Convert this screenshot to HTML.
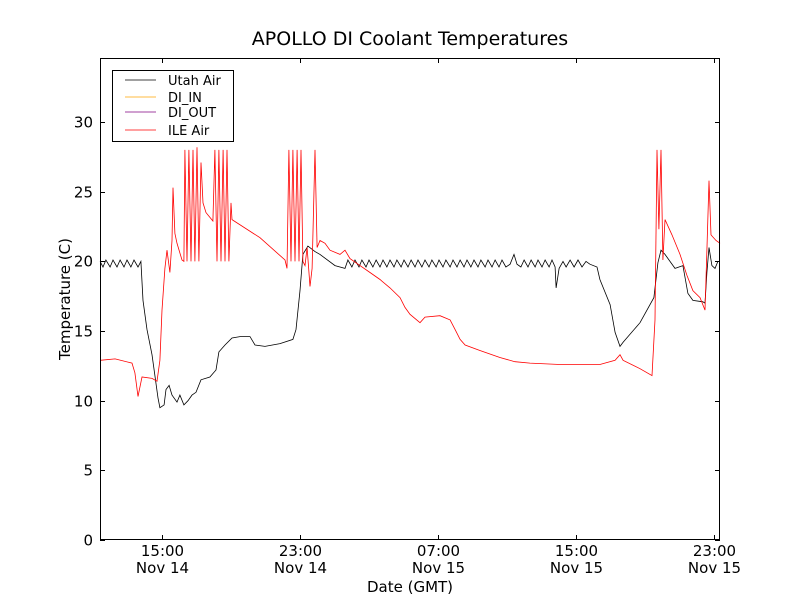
<!DOCTYPE html>
<html><head><meta charset="utf-8"><style>
body{margin:0;background:#fff;}
svg text{font-family:"DejaVu Sans","Liberation Sans",sans-serif;}
</style></head><body>
<svg id="chart" width="800" height="600" xmlns="http://www.w3.org/2000/svg">
<rect width="800" height="600" fill="#fff"/>
<text x="410" y="45" font-size="19" text-anchor="middle">APOLLO DI Coolant Temperatures</text>
<g id="plot"></g>
<rect x="100.5" y="58.5" width="619" height="481" fill="none" stroke="#000" stroke-width="1"/>
<text transform="translate(70,299) rotate(-90)" font-size="15" text-anchor="middle">Temperature (C)</text>
<text x="410" y="592" font-size="15" text-anchor="middle">Date (GMT)</text>
<g>
<rect x="112.5" y="70.5" width="121" height="71" fill="#fff" stroke="#000"/>
<line x1="125" y1="80" x2="156" y2="80" stroke="#000" stroke-width="0.7"/><text x="168" y="85" font-size="13">Utah Air</text>
<line x1="125" y1="97" x2="156" y2="97" stroke="#ffa500" stroke-width="0.7"/><text x="168" y="102" font-size="13">DI_IN</text>
<line x1="125" y1="112" x2="156" y2="112" stroke="#800080" stroke-width="0.7"/><text x="168" y="117" font-size="13">DI_OUT</text>
<line x1="125" y1="130" x2="156" y2="130" stroke="#f00" stroke-width="0.7"/><text x="168" y="135" font-size="13">ILE Air</text>
</g>
</svg>
<script>
const yTicks=[0,5,10,15,20,25,30];
const xTickHours=[15,23,31,39,47];
const xTickTimes=["15:00","23:00","07:00","15:00","23:00"];
const xTickDates=["Nov 14","Nov 14","Nov 15","Nov 15","Nov 15"];
const utahTimes=[11.41,11.58,11.75,11.99,12.16,12.39,12.57,12.80,12.97,13.20,13.38,13.61,13.78,13.90,14.13,14.42,14.59,14.77,14.88,15.12,15.23,15.41,15.58,15.87,16.04,16.27,16.51,16.74,16.97,17.26,17.78,18.13,18.30,18.65,19.06,19.52,20.10,20.39,20.97,21.84,22.59,22.77,23.00,23.17,23.46,23.87,24.16,25.03,25.61,25.78,26.01,26.19,26.42,26.59,26.83,27.00,27.23,27.41,27.64,27.81,28.04,28.22,28.45,28.62,28.86,29.03,29.26,29.44,29.67,29.84,30.07,30.25,30.48,30.65,30.89,31.06,31.29,31.46,31.70,31.87,32.10,32.28,32.51,32.68,32.91,33.09,33.32,33.49,33.73,33.90,34.13,34.31,34.54,34.71,34.94,35.18,35.41,35.58,35.81,35.99,36.22,36.40,36.63,36.80,37.03,37.21,37.44,37.61,37.79,37.85,38.02,38.25,38.43,38.66,38.89,39.12,39.35,39.58,39.81,40.22,40.39,40.98,41.27,41.55,41.73,42.71,43.52,43.75,43.93,44.16,44.74,45.20,45.49,45.78,46.36,46.48,46.59,46.71,46.88,47.06,47.23,47.35];
const utahTemps=[20.0,19.6,20.1,19.6,20.1,19.6,20.1,19.6,20.1,19.6,20.1,19.6,20.0,17.2,15.1,13.3,11.8,10.2,9.5,9.7,10.8,11.1,10.4,9.9,10.4,9.7,10.0,10.4,10.6,11.5,11.7,12.2,13.5,14.0,14.5,14.6,14.6,14.0,13.9,14.1,14.4,15.1,17.9,20.5,21.1,20.7,20.5,19.7,19.5,20.1,19.6,20.1,19.6,20.1,19.6,20.1,19.6,20.1,19.6,20.1,19.6,20.1,19.6,20.1,19.6,20.1,19.6,20.1,19.6,20.1,19.6,20.1,19.6,20.1,19.6,20.1,19.6,20.1,19.6,20.1,19.6,20.1,19.6,20.1,19.6,20.1,19.6,20.1,19.6,20.1,19.6,20.1,19.6,20.1,19.6,19.8,20.5,19.8,19.6,20.1,19.6,20.1,19.6,20.1,19.6,20.1,19.6,20.1,19.6,18.1,19.5,20.0,19.6,20.1,19.6,20.1,19.6,20.0,19.8,19.6,18.7,16.9,14.9,13.9,14.2,15.6,17.4,19.9,20.8,20.5,19.5,19.7,17.7,17.2,17.1,17.0,19.2,21.0,19.7,19.5,20.0,20.0];
const ileTimes=[11.41,12.28,13.26,13.43,13.61,13.84,14.42,14.71,14.88,15.00,15.17,15.29,15.46,15.58,15.64,15.75,15.87,16.16,16.27,16.33,16.45,16.56,16.68,16.80,16.91,17.03,17.14,17.26,17.38,17.55,17.95,18.07,18.19,18.30,18.42,18.54,18.65,18.77,18.88,19.00,19.06,20.68,22.13,22.25,22.36,22.48,22.59,22.71,22.83,22.94,23.06,23.17,23.29,23.41,23.58,23.70,23.87,23.99,24.16,24.45,24.74,25.32,25.61,25.90,26.48,27.06,27.64,28.22,28.80,29.09,29.38,29.96,30.25,31.12,31.70,31.99,32.28,32.57,33.43,34.59,35.46,36.33,38.07,40.39,41.27,41.55,41.73,42.71,43.41,43.58,43.70,43.81,43.93,44.04,44.16,44.57,45.03,45.43,45.78,46.19,46.48,46.59,46.71,46.83,47.12,47.35];
const ileTemps=[12.9,13.0,12.7,12.0,10.3,11.7,11.6,11.4,12.9,16.5,19.5,20.8,19.2,21.5,25.3,22.0,21.3,20.1,20.0,28.0,20.0,28.0,20.0,28.0,20.0,28.2,20.0,27.1,24.2,23.5,22.9,28.0,20.0,28.0,20.0,28.0,20.0,28.0,20.0,24.2,23.0,21.7,20.1,19.5,28.0,20.0,28.0,20.0,28.0,20.0,28.0,20.0,19.7,21.0,18.2,19.5,28.0,21.0,21.5,21.3,20.8,20.5,20.8,20.2,19.7,19.2,18.7,18.1,17.4,16.7,16.2,15.6,16.0,16.1,15.8,15.1,14.4,14.0,13.6,13.1,12.8,12.7,12.6,12.6,12.9,13.3,12.9,12.3,11.8,15.8,28.0,22.3,28.0,20.1,23.0,21.9,20.5,19.0,17.9,17.4,16.5,20.8,25.8,21.9,21.5,21.3];

const X0=100,X1=720,Y0=540,Y1=58,H0=11.406,H1=47.35,T0=0,T1=34.6;
function xs(h){return X0+(h-H0)/(H1-H0)*(X1-X0);}
function ys(t){return Y0-(t-T0)/(T1-T0)*(Y0-Y1);}
const NS="http://www.w3.org/2000/svg";
const plot=document.getElementById('plot');
function mk(tag,attrs,parent){const e=document.createElementNS(NS,tag);for(const k in attrs)e.setAttribute(k,attrs[k]);(parent||plot).appendChild(e);return e;}
yTicks.forEach(function(v){
  const y=Math.round(ys(v))+0.5;
  const t1=mk('line',{x1:100,x2:105,y1:y,y2:y,stroke:'#000'});
  
  
  mk('line',{x1:715,x2:720,y1:y,y2:y,stroke:'#000'});
  const tx=mk('text',{x:93,y:y+5,'font-size':15,'text-anchor':'end'});
  
  
  tx.textContent=v;
});
xTickHours.forEach(function(h,i){
  const x=Math.round(xs(h))+0.5;
  const t1=mk('line',{x1:x,x2:x,y1:535,y2:540,stroke:'#000'});
  
  
  mk('line',{x1:x,x2:x,y1:58,y2:63,stroke:'#000'});
  const a=mk('text',{x:x,y:556,'font-size':15,'text-anchor':'middle'});
  
  
  a.textContent=xTickTimes[i];
  const b=mk('text',{x:x,y:573,'font-size':15,'text-anchor':'middle'});
  
  
  b.textContent=xTickDates[i];
});
function line(times,temps,color,name){
  const d=times.map(function(h,i){return (i?'L':'M')+xs(h).toFixed(1)+','+ys(temps[i]).toFixed(1);}).join('');
  const p=mk('path',{d:d,fill:'none',stroke:color,'stroke-width':0.8});
  
  
}
line(utahTimes,utahTemps,'#000','utah-air-line');
line(ileTimes,ileTemps,'#f00','ile-air-line');
</script>
</body></html>
